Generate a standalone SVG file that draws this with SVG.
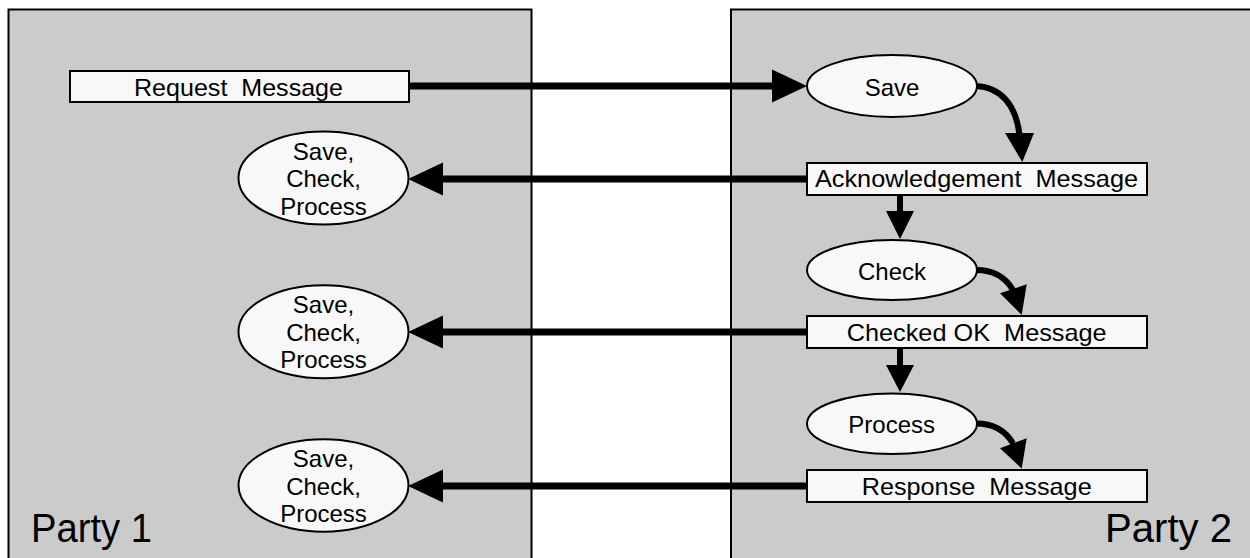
<svg xmlns="http://www.w3.org/2000/svg" width="1250" height="558" viewBox="0 0 1250 558">
  <defs>
    <style>
      .panel { fill: #cbcbcb; stroke: #000; stroke-width: 2; }
      .box { fill: #f8f8f8; stroke: #000; stroke-width: 2; }
      .node { fill: #f8f8f8; stroke: #000; stroke-width: 2; }
      .label { font-family: "Liberation Sans", Arial, sans-serif; font-size: 24px; fill: #000; text-anchor: middle; white-space: pre; }
      .party { font-family: "Liberation Sans", Arial, sans-serif; font-size: 40px; fill: #000; }
      .wire { fill: none; stroke: #000; stroke-width: 7; }
      .thin { fill: none; stroke: #000; stroke-width: 6; }
      .head { fill: #000; stroke: none; }
    </style>
  </defs>
  <rect width="1250" height="558" fill="#fff"/>

  <!-- party panels -->
  <g id="party1">
    <rect class="panel" x="8.5" y="9.5" width="523" height="560"/>
    <text class="party" x="31" y="542" textLength="121" lengthAdjust="spacingAndGlyphs">Party 1</text>
  </g>
  <g id="party2">
    <rect class="panel" x="731" y="9.5" width="540" height="560"/>
    <text class="party" x="1105" y="542" textLength="127" lengthAdjust="spacingAndGlyphs">Party 2</text>
  </g>

  <!-- connectors -->
  <g id="connectors">
    <!-- request to save -->
    <line class="wire" x1="409" y1="86" x2="774" y2="86"/>
    <polygon class="head" points="807,86 772,69.5 772,102.5"/>
    <!-- replies back to party 1 -->
    <line class="wire" x1="807" y1="179" x2="441" y2="179"/>
    <polygon class="head" points="408,179 443,162.5 443,195.5"/>
    <line class="wire" x1="807" y1="332" x2="441" y2="332"/>
    <polygon class="head" points="408,332 443,315.5 443,348.5"/>
    <line class="wire" x1="807" y1="486" x2="441" y2="486"/>
    <polygon class="head" points="408,486 443,469.5 443,502.5"/>
    <!-- party 2 internal flow -->
    <path class="thin" d="M 976 86 C 1000 87, 1016 104, 1019.5 135"/>
    <polygon class="head" points="1022.3,162 1005,133 1034,133"/>
    <line class="thin" x1="900" y1="195" x2="900" y2="213"/>
    <polygon class="head" points="900,239 886,211 914,211"/>
    <path class="thin" d="M 976 270 C 994 270, 1006 278, 1013 290"/>
    <polygon class="head" points="1021.7,315 1000,293.3 1026.7,284.3"/>
    <line class="thin" x1="900" y1="348" x2="900" y2="367"/>
    <polygon class="head" points="900,392 886,365 914,365"/>
    <path class="thin" d="M 976 423.5 C 994 423.5, 1006 431.5, 1013 443.5"/>
    <polygon class="head" points="1021.7,468.5 1000,448.3 1026.7,438.3"/>
  </g>

  <!-- party 1 nodes -->
  <g id="request-message">
    <rect class="box" x="70" y="71" width="339" height="31"/>
    <text class="label" x="238.5" y="96" textLength="209" lengthAdjust="spacingAndGlyphs" xml:space="preserve">Request  Message</text>
  </g>
  <g id="p1-process-1">
    <ellipse class="node" cx="323.5" cy="178" rx="85" ry="46.5"/>
    <text class="label" x="323.5" y="159.5">Save,</text>
    <text class="label" x="323.5" y="187">Check,</text>
    <text class="label" x="323.5" y="214.5">Process</text>
  </g>
  <g id="p1-process-2">
    <ellipse class="node" cx="323.5" cy="331.7" rx="85" ry="46.5"/>
    <text class="label" x="323.5" y="313.3">Save,</text>
    <text class="label" x="323.5" y="341">Check,</text>
    <text class="label" x="323.5" y="368.3">Process</text>
  </g>
  <g id="p1-process-3">
    <ellipse class="node" cx="323.5" cy="485.5" rx="85" ry="46.2"/>
    <text class="label" x="323.5" y="467">Save,</text>
    <text class="label" x="323.5" y="494.7">Check,</text>
    <text class="label" x="323.5" y="522">Process</text>
  </g>

  <!-- party 2 nodes -->
  <g id="save">
    <ellipse class="node" cx="892" cy="86" rx="85" ry="31"/>
    <text class="label" x="892" y="95.5">Save</text>
  </g>
  <g id="ack-message">
    <rect class="box" x="807" y="163" width="340" height="32"/>
    <text class="label" x="976.5" y="187.3" textLength="323" lengthAdjust="spacingAndGlyphs" xml:space="preserve">Acknowledgement  Message</text>
  </g>
  <g id="check">
    <ellipse class="node" cx="892" cy="270" rx="85" ry="30"/>
    <text class="label" x="892" y="280">Check</text>
  </g>
  <g id="checked-message">
    <rect class="box" x="807" y="316" width="340" height="32"/>
    <text class="label" x="976.7" y="341" textLength="260" lengthAdjust="spacingAndGlyphs" xml:space="preserve">Checked OK  Message</text>
  </g>
  <g id="process">
    <ellipse class="node" cx="892" cy="423.7" rx="85" ry="30.3"/>
    <text class="label" x="891.7" y="433.3">Process</text>
  </g>
  <g id="response-message">
    <rect class="box" x="807" y="470" width="340" height="32"/>
    <text class="label" x="976.7" y="495" textLength="230" lengthAdjust="spacingAndGlyphs" xml:space="preserve">Response  Message</text>
  </g>
</svg>
